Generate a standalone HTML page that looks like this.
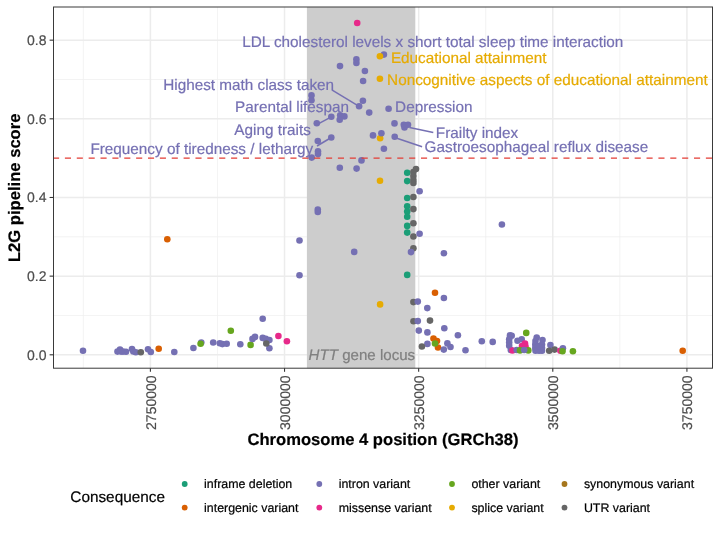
<!DOCTYPE html><html><head><meta charset="utf-8"><style>html,body{margin:0;padding:0;background:#fff;}svg{display:block;font-family:"Liberation Sans",sans-serif;text-rendering:geometricPrecision;will-change:transform;}</style></head><body>
<svg width="720" height="535" viewBox="0 0 720 535">
<rect x="0" y="0" width="720" height="535" fill="#fff"/>
<line x1="53.5" x2="712.5" y1="315.47" y2="315.47" stroke="#efefef" stroke-width="0.75"/>
<line x1="53.5" x2="712.5" y1="236.81" y2="236.81" stroke="#efefef" stroke-width="0.75"/>
<line x1="53.5" x2="712.5" y1="79.49" y2="79.49" stroke="#efefef" stroke-width="0.75"/>
<line y1="7.0" y2="368.2" x1="83.34" x2="83.34" stroke="#efefef" stroke-width="0.75"/>
<line y1="7.0" y2="368.2" x1="217.47" x2="217.47" stroke="#efefef" stroke-width="0.75"/>
<line y1="7.0" y2="368.2" x1="351.60" x2="351.60" stroke="#efefef" stroke-width="0.75"/>
<line y1="7.0" y2="368.2" x1="485.73" x2="485.73" stroke="#efefef" stroke-width="0.75"/>
<line y1="7.0" y2="368.2" x1="619.86" x2="619.86" stroke="#efefef" stroke-width="0.75"/>
<line x1="53.5" x2="712.5" y1="354.80" y2="354.80" stroke="#ececec" stroke-width="1.5"/>
<line x1="53.5" x2="712.5" y1="276.14" y2="276.14" stroke="#ececec" stroke-width="1.5"/>
<line x1="53.5" x2="712.5" y1="197.48" y2="197.48" stroke="#ececec" stroke-width="1.5"/>
<line x1="53.5" x2="712.5" y1="118.82" y2="118.82" stroke="#ececec" stroke-width="1.5"/>
<line x1="53.5" x2="712.5" y1="40.16" y2="40.16" stroke="#ececec" stroke-width="1.5"/>
<line y1="7.0" y2="368.2" x1="150.40" x2="150.40" stroke="#ececec" stroke-width="1.5"/>
<line y1="7.0" y2="368.2" x1="284.53" x2="284.53" stroke="#ececec" stroke-width="1.5"/>
<line y1="7.0" y2="368.2" x1="418.66" x2="418.66" stroke="#ececec" stroke-width="1.5"/>
<line y1="7.0" y2="368.2" x1="552.79" x2="552.79" stroke="#ececec" stroke-width="1.5"/>
<line y1="7.0" y2="368.2" x1="686.92" x2="686.92" stroke="#ececec" stroke-width="1.5"/>
<rect x="306.9" y="7.0" width="108.40" height="361.2" fill="#cdcdcd"/>
<text x="308.6" y="360" font-size="15.1" fill="#7f7f7f" stroke="#7f7f7f" stroke-width="0.2"><tspan font-style="italic">HTT</tspan> gene locus</text>
<circle cx="83" cy="350.8" r="3.3" fill="#7570B3"/>
<circle cx="117.5" cy="351.6" r="3.3" fill="#7570B3"/>
<circle cx="120" cy="349.5" r="3.3" fill="#7570B3"/>
<circle cx="123" cy="351.6" r="3.3" fill="#7570B3"/>
<circle cx="126" cy="351.8" r="3.3" fill="#7570B3"/>
<circle cx="121" cy="351.6" r="3.3" fill="#7570B3"/>
<circle cx="132" cy="349.0" r="3.3" fill="#7570B3"/>
<circle cx="133.3" cy="351.5" r="3.3" fill="#7570B3"/>
<circle cx="135.8" cy="352.3" r="3.3" fill="#7570B3"/>
<circle cx="140.8" cy="352.3" r="3.3" fill="#666666"/>
<circle cx="148" cy="349.3" r="3.3" fill="#7570B3"/>
<circle cx="150.8" cy="352.0" r="3.3" fill="#7570B3"/>
<circle cx="158.7" cy="348.7" r="3.3" fill="#D95F02"/>
<circle cx="174.3" cy="352.0" r="3.3" fill="#7570B3"/>
<circle cx="193.4" cy="348" r="3.3" fill="#7570B3"/>
<circle cx="201.3" cy="342.5" r="3.3" fill="#7570B3"/>
<circle cx="200.6" cy="343.8" r="3.3" fill="#66A61E"/>
<circle cx="213.2" cy="342.5" r="3.3" fill="#7570B3"/>
<circle cx="219.8" cy="343.2" r="3.3" fill="#7570B3"/>
<circle cx="222.4" cy="344.1" r="3.3" fill="#7570B3"/>
<circle cx="226.7" cy="343.8" r="3.3" fill="#7570B3"/>
<circle cx="230.8" cy="330.7" r="3.3" fill="#66A61E"/>
<circle cx="240.3" cy="344.3" r="3.3" fill="#7570B3"/>
<circle cx="250.6" cy="344.9" r="3.3" fill="#66A61E"/>
<circle cx="252.5" cy="338.9" r="3.3" fill="#7570B3"/>
<circle cx="255" cy="336.9" r="3.3" fill="#7570B3"/>
<circle cx="262.7" cy="318.7" r="3.3" fill="#7570B3"/>
<circle cx="262.7" cy="337.9" r="3.3" fill="#7570B3"/>
<circle cx="265.8" cy="338.9" r="3.3" fill="#7570B3"/>
<circle cx="269.4" cy="340" r="3.3" fill="#7570B3"/>
<circle cx="269.4" cy="348.2" r="3.3" fill="#7570B3"/>
<circle cx="266.3" cy="343.5" r="3.3" fill="#666666"/>
<circle cx="278.4" cy="336" r="3.3" fill="#E7298A"/>
<circle cx="286.9" cy="341.2" r="3.3" fill="#E7298A"/>
<circle cx="167.3" cy="239.3" r="3.3" fill="#D95F02"/>
<circle cx="299.5" cy="240.5" r="3.3" fill="#7570B3"/>
<circle cx="299.5" cy="275.3" r="3.3" fill="#7570B3"/>
<circle cx="357.2" cy="23.0" r="3.3" fill="#E7298A"/>
<circle cx="340.0" cy="66.1" r="3.3" fill="#7570B3"/>
<circle cx="356.4" cy="59.4" r="3.3" fill="#7570B3"/>
<circle cx="356.4" cy="63.0" r="3.3" fill="#7570B3"/>
<circle cx="364.9" cy="71.0" r="3.3" fill="#7570B3"/>
<circle cx="363.1" cy="81.0" r="3.3" fill="#7570B3"/>
<circle cx="383.9" cy="54.6" r="3.3" fill="#7570B3"/>
<circle cx="379.9" cy="56.3" r="3.3" fill="#E6AB02"/>
<circle cx="379.9" cy="78.7" r="3.3" fill="#E6AB02"/>
<circle cx="311.5" cy="95.4" r="3.3" fill="#7570B3"/>
<circle cx="311.5" cy="100.3" r="3.3" fill="#7570B3"/>
<circle cx="362.9" cy="100.7" r="3.3" fill="#7570B3"/>
<circle cx="359.1" cy="106.3" r="3.3" fill="#7570B3"/>
<circle cx="369.2" cy="112.6" r="3.3" fill="#7570B3"/>
<circle cx="388.6" cy="108.8" r="3.3" fill="#7570B3"/>
<circle cx="331.3" cy="116.8" r="3.3" fill="#7570B3"/>
<circle cx="340.2" cy="115.2" r="3.3" fill="#7570B3"/>
<circle cx="344.4" cy="116.4" r="3.3" fill="#7570B3"/>
<circle cx="339.7" cy="119.8" r="3.3" fill="#7570B3"/>
<circle cx="316.8" cy="123.2" r="3.3" fill="#7570B3"/>
<circle cx="394.5" cy="123.4" r="3.3" fill="#7570B3"/>
<circle cx="403.8" cy="124.7" r="3.3" fill="#7570B3"/>
<circle cx="408" cy="124.7" r="3.3" fill="#7570B3"/>
<circle cx="404.5" cy="127.5" r="3.3" fill="#7570B3"/>
<circle cx="373" cy="135.4" r="3.3" fill="#7570B3"/>
<circle cx="380.1" cy="138.3" r="3.3" fill="#E6AB02"/>
<circle cx="381.4" cy="133.2" r="3.3" fill="#7570B3"/>
<circle cx="394.7" cy="136.8" r="3.3" fill="#7570B3"/>
<circle cx="383.9" cy="148.7" r="3.3" fill="#7570B3"/>
<circle cx="331.3" cy="137.5" r="3.3" fill="#7570B3"/>
<circle cx="317.8" cy="141" r="3.3" fill="#7570B3"/>
<circle cx="318" cy="151.3" r="3.3" fill="#7570B3"/>
<circle cx="318" cy="154.1" r="3.3" fill="#7570B3"/>
<circle cx="311.7" cy="157.6" r="3.3" fill="#7570B3"/>
<circle cx="339.8" cy="167.7" r="3.3" fill="#7570B3"/>
<circle cx="356.6" cy="168.6" r="3.3" fill="#7570B3"/>
<circle cx="361.5" cy="160.4" r="3.3" fill="#7570B3"/>
<circle cx="380" cy="180.8" r="3.3" fill="#E6AB02"/>
<circle cx="317.8" cy="209.5" r="3.3" fill="#7570B3"/>
<circle cx="317.8" cy="212" r="3.3" fill="#7570B3"/>
<circle cx="354.2" cy="251.9" r="3.3" fill="#7570B3"/>
<circle cx="380.1" cy="304.4" r="3.3" fill="#E6AB02"/>
<circle cx="407.2" cy="172.8" r="3.3" fill="#1B9E77"/>
<circle cx="407.2" cy="181.1" r="3.3" fill="#1B9E77"/>
<circle cx="407.2" cy="198" r="3.3" fill="#1B9E77"/>
<circle cx="407.2" cy="206.2" r="3.3" fill="#1B9E77"/>
<circle cx="407.2" cy="211.5" r="3.3" fill="#1B9E77"/>
<circle cx="407.2" cy="216.7" r="3.3" fill="#1B9E77"/>
<circle cx="407.2" cy="225.9" r="3.3" fill="#1B9E77"/>
<circle cx="407.2" cy="232.6" r="3.3" fill="#1B9E77"/>
<circle cx="407.2" cy="274.9" r="3.3" fill="#1B9E77"/>
<circle cx="416" cy="169" r="3.3" fill="#666666"/>
<circle cx="413.4" cy="172" r="3.3" fill="#666666"/>
<circle cx="413.4" cy="176" r="3.3" fill="#666666"/>
<circle cx="413.4" cy="180" r="3.3" fill="#666666"/>
<circle cx="413.4" cy="183" r="3.3" fill="#666666"/>
<circle cx="413.4" cy="197" r="3.3" fill="#666666"/>
<circle cx="413.4" cy="209.1" r="3.3" fill="#666666"/>
<circle cx="413.4" cy="223.2" r="3.3" fill="#666666"/>
<circle cx="413.4" cy="236.5" r="3.3" fill="#666666"/>
<circle cx="413.4" cy="248.2" r="3.3" fill="#666666"/>
<circle cx="419.6" cy="191.3" r="3.3" fill="#7570B3"/>
<circle cx="419.6" cy="233.8" r="3.3" fill="#7570B3"/>
<circle cx="411" cy="252.1" r="3.3" fill="#7570B3"/>
<circle cx="443.9" cy="253.2" r="3.3" fill="#7570B3"/>
<circle cx="435" cy="292.7" r="3.3" fill="#D95F02"/>
<circle cx="443.9" cy="298" r="3.3" fill="#7570B3"/>
<circle cx="427.3" cy="308.1" r="3.3" fill="#7570B3"/>
<circle cx="413.4" cy="302.1" r="3.3" fill="#666666"/>
<circle cx="417.8" cy="301.6" r="3.3" fill="#7570B3"/>
<circle cx="413.5" cy="321.3" r="3.3" fill="#666666"/>
<circle cx="417.8" cy="321.1" r="3.3" fill="#7570B3"/>
<circle cx="430" cy="320.6" r="3.3" fill="#666666"/>
<circle cx="418.8" cy="330.6" r="3.3" fill="#7570B3"/>
<circle cx="427.4" cy="332.4" r="3.3" fill="#7570B3"/>
<circle cx="444.3" cy="328.3" r="3.3" fill="#7570B3"/>
<circle cx="457.9" cy="335.2" r="3.3" fill="#7570B3"/>
<circle cx="427.4" cy="343.9" r="3.3" fill="#7570B3"/>
<circle cx="421.9" cy="346.5" r="3.3" fill="#666666"/>
<circle cx="433.5" cy="338.5" r="3.3" fill="#D95F02"/>
<circle cx="437" cy="341" r="3.3" fill="#D95F02"/>
<circle cx="438" cy="347.5" r="3.3" fill="#D95F02"/>
<circle cx="435" cy="343.5" r="3.3" fill="#66A61E"/>
<circle cx="447.4" cy="343.4" r="3.3" fill="#7570B3"/>
<circle cx="450.5" cy="347" r="3.3" fill="#7570B3"/>
<circle cx="443.8" cy="349.6" r="3.3" fill="#7570B3"/>
<circle cx="465.5" cy="350.3" r="3.3" fill="#7570B3"/>
<circle cx="481.8" cy="341.3" r="3.3" fill="#7570B3"/>
<circle cx="492.7" cy="341.9" r="3.3" fill="#7570B3"/>
<circle cx="501.9" cy="224.5" r="3.3" fill="#7570B3"/>
<circle cx="510" cy="335.4" r="3.3" fill="#7570B3"/>
<circle cx="511.7" cy="335.8" r="3.3" fill="#7570B3"/>
<circle cx="509.2" cy="339.2" r="3.3" fill="#7570B3"/>
<circle cx="509.2" cy="342.5" r="3.3" fill="#7570B3"/>
<circle cx="509.2" cy="345.8" r="3.3" fill="#7570B3"/>
<circle cx="510.8" cy="350" r="3.3" fill="#7570B3"/>
<circle cx="512.5" cy="350.5" r="3.3" fill="#E7298A"/>
<circle cx="517.5" cy="340.8" r="3.3" fill="#7570B3"/>
<circle cx="521.7" cy="339.2" r="3.3" fill="#7570B3"/>
<circle cx="525" cy="343.5" r="3.3" fill="#E7298A"/>
<circle cx="525.5" cy="346.5" r="3.3" fill="#E7298A"/>
<circle cx="522" cy="346" r="3.3" fill="#E7298A"/>
<circle cx="516.7" cy="350" r="3.3" fill="#7570B3"/>
<circle cx="520" cy="350.4" r="3.3" fill="#66A61E"/>
<circle cx="528.3" cy="350.4" r="3.3" fill="#66A61E"/>
<circle cx="524.2" cy="350" r="3.3" fill="#7570B3"/>
<circle cx="526.25" cy="332.9" r="3.3" fill="#66A61E"/>
<circle cx="536.7" cy="337.5" r="3.3" fill="#7570B3"/>
<circle cx="542.5" cy="340" r="3.3" fill="#7570B3"/>
<circle cx="535.5" cy="341" r="3.3" fill="#7570B3"/>
<circle cx="535.3" cy="344.5" r="3.3" fill="#7570B3"/>
<circle cx="542" cy="344.5" r="3.3" fill="#7570B3"/>
<circle cx="535.3" cy="348" r="3.3" fill="#7570B3"/>
<circle cx="542" cy="348" r="3.3" fill="#7570B3"/>
<circle cx="535.5" cy="350.8" r="3.3" fill="#7570B3"/>
<circle cx="539" cy="350.8" r="3.3" fill="#7570B3"/>
<circle cx="542" cy="350.8" r="3.3" fill="#7570B3"/>
<circle cx="539" cy="346" r="3.3" fill="#7570B3"/>
<circle cx="550.4" cy="345" r="3.3" fill="#7570B3"/>
<circle cx="549.2" cy="350.8" r="3.3" fill="#666666"/>
<circle cx="554.6" cy="349.6" r="3.3" fill="#666666"/>
<circle cx="560.4" cy="350.8" r="3.3" fill="#E7298A"/>
<circle cx="562.9" cy="348.3" r="3.3" fill="#7570B3"/>
<circle cx="562.5" cy="351.25" r="3.3" fill="#66A61E"/>
<circle cx="572.9" cy="351.25" r="3.3" fill="#66A61E"/>
<circle cx="682.7" cy="350.8" r="3.3" fill="#D95F02"/>
<line x1="331.8" y1="89.8" x2="359.1" y2="106.3" stroke="#7570B3" stroke-width="1.5"/>
<line x1="316.8" y1="124.6" x2="331.3" y2="116.8" stroke="#7570B3" stroke-width="1.5"/>
<line x1="317" y1="146" x2="331.3" y2="137.5" stroke="#7570B3" stroke-width="1.5"/>
<line x1="409.5" y1="127.5" x2="433.3" y2="132.4" stroke="#7570B3" stroke-width="1.5"/>
<line x1="396.1" y1="138" x2="422.1" y2="146.7" stroke="#7570B3" stroke-width="1.5"/>
<line x1="53.03" x2="712.5" y1="158.15" y2="158.15" stroke="#e33c34" stroke-width="1.4" stroke-dasharray="6.1 5.77"/>
<text x="242.2" y="46.5" font-size="15.3" fill="#7570B3" stroke="#7570B3" stroke-width="0.2">LDL cholesterol levels x short total sleep time interaction</text>
<text x="390.9" y="62.9" font-size="15.3" fill="#E6AB02" stroke="#E6AB02" stroke-width="0.2">Educational attainment</text>
<text x="387.1" y="85.2" font-size="15.3" fill="#E6AB02" stroke="#E6AB02" stroke-width="0.2">Noncognitive aspects of educational attainment</text>
<text x="163.2" y="89.9" font-size="15.3" fill="#7570B3" stroke="#7570B3" stroke-width="0.2">Highest math class taken</text>
<text x="395.1" y="112.2" font-size="15.3" fill="#7570B3" stroke="#7570B3" stroke-width="0.2">Depression</text>
<text x="235.1" y="112.2" font-size="15.3" fill="#7570B3" stroke="#7570B3" stroke-width="0.2">Parental lifespan</text>
<text x="234.3" y="134.6" font-size="15.3" fill="#7570B3" stroke="#7570B3" stroke-width="0.2">Aging traits</text>
<text x="435.8" y="138" font-size="15.3" fill="#7570B3" stroke="#7570B3" stroke-width="0.2">Frailty index</text>
<text x="424.6" y="152.4" font-size="15.3" fill="#7570B3" stroke="#7570B3" stroke-width="0.2">Gastroesophageal reflux disease</text>
<text x="90.4" y="154.2" font-size="15.3" fill="#7570B3" stroke="#7570B3" stroke-width="0.2">Frequency of tiredness / lethargy</text>
<rect x="53.5" y="7.0" width="659.0" height="361.2" fill="none" stroke="#3a3a3a" stroke-width="1.0"/>
<line x1="49.6" x2="53.5" y1="354.80" y2="354.80" stroke="#333333" stroke-width="1.1"/>
<text x="46.5" y="359.80" font-size="14" fill="#4d4d4d" stroke="#4d4d4d" stroke-width="0.2" text-anchor="end">0.0</text>
<line x1="49.6" x2="53.5" y1="276.14" y2="276.14" stroke="#333333" stroke-width="1.1"/>
<text x="46.5" y="281.14" font-size="14" fill="#4d4d4d" stroke="#4d4d4d" stroke-width="0.2" text-anchor="end">0.2</text>
<line x1="49.6" x2="53.5" y1="197.48" y2="197.48" stroke="#333333" stroke-width="1.1"/>
<text x="46.5" y="202.48" font-size="14" fill="#4d4d4d" stroke="#4d4d4d" stroke-width="0.2" text-anchor="end">0.4</text>
<line x1="49.6" x2="53.5" y1="118.82" y2="118.82" stroke="#333333" stroke-width="1.1"/>
<text x="46.5" y="123.82" font-size="14" fill="#4d4d4d" stroke="#4d4d4d" stroke-width="0.2" text-anchor="end">0.6</text>
<line x1="49.6" x2="53.5" y1="40.16" y2="40.16" stroke="#333333" stroke-width="1.1"/>
<text x="46.5" y="45.16" font-size="14" fill="#4d4d4d" stroke="#4d4d4d" stroke-width="0.2" text-anchor="end">0.8</text>
<line y1="368.2" y2="371.8" x1="150.40" x2="150.40" stroke="#333333" stroke-width="1.1"/>
<text transform="translate(155.50,375.4) rotate(-90)" font-size="14" fill="#4d4d4d" stroke="#4d4d4d" stroke-width="0.2" text-anchor="end">2750000</text>
<line y1="368.2" y2="371.8" x1="284.53" x2="284.53" stroke="#333333" stroke-width="1.1"/>
<text transform="translate(289.63,375.4) rotate(-90)" font-size="14" fill="#4d4d4d" stroke="#4d4d4d" stroke-width="0.2" text-anchor="end">3000000</text>
<line y1="368.2" y2="371.8" x1="418.66" x2="418.66" stroke="#333333" stroke-width="1.1"/>
<text transform="translate(423.76,375.4) rotate(-90)" font-size="14" fill="#4d4d4d" stroke="#4d4d4d" stroke-width="0.2" text-anchor="end">3250000</text>
<line y1="368.2" y2="371.8" x1="552.79" x2="552.79" stroke="#333333" stroke-width="1.1"/>
<text transform="translate(557.89,375.4) rotate(-90)" font-size="14" fill="#4d4d4d" stroke="#4d4d4d" stroke-width="0.2" text-anchor="end">3500000</text>
<line y1="368.2" y2="371.8" x1="686.92" x2="686.92" stroke="#333333" stroke-width="1.1"/>
<text transform="translate(692.02,375.4) rotate(-90)" font-size="14" fill="#4d4d4d" stroke="#4d4d4d" stroke-width="0.2" text-anchor="end">3750000</text>
<text x="383" y="445" font-size="16.6" font-weight="bold" fill="#000" stroke="#000" stroke-width="0.2" text-anchor="middle">Chromosome 4 position (GRCh38)</text>
<text transform="translate(19.7,187.8) rotate(-90)" font-size="16.6" font-weight="bold" fill="#000" stroke="#000" stroke-width="0.2" text-anchor="middle">L2G pipeline score</text>
<text x="70.3" y="501.6" font-size="15.35" fill="#000" stroke="#000" stroke-width="0.2">Consequence</text>
<circle cx="184.7" cy="484.0" r="2.9" fill="#1B9E77"/>
<text x="204.10" y="487.90" font-size="12.4" fill="#000" stroke="#000" stroke-width="0.2">inframe deletion</text>
<circle cx="184.7" cy="507.6" r="2.9" fill="#D95F02"/>
<text x="204.10" y="511.50" font-size="12.4" fill="#000" stroke="#000" stroke-width="0.2">intergenic variant</text>
<circle cx="319.3" cy="484.0" r="2.9" fill="#7570B3"/>
<text x="338.70" y="487.90" font-size="12.4" fill="#000" stroke="#000" stroke-width="0.2">intron variant</text>
<circle cx="319.3" cy="507.6" r="2.9" fill="#E7298A"/>
<text x="338.70" y="511.50" font-size="12.4" fill="#000" stroke="#000" stroke-width="0.2">missense variant</text>
<circle cx="452.0" cy="484.0" r="2.9" fill="#66A61E"/>
<text x="471.40" y="487.90" font-size="12.4" fill="#000" stroke="#000" stroke-width="0.2">other variant</text>
<circle cx="452.0" cy="507.6" r="2.9" fill="#E6AB02"/>
<text x="471.40" y="511.50" font-size="12.4" fill="#000" stroke="#000" stroke-width="0.2">splice variant</text>
<circle cx="564.5" cy="484.0" r="2.9" fill="#A6761D"/>
<text x="583.90" y="487.90" font-size="12.4" fill="#000" stroke="#000" stroke-width="0.2">synonymous variant</text>
<circle cx="564.5" cy="507.6" r="2.9" fill="#666666"/>
<text x="583.90" y="511.50" font-size="12.4" fill="#000" stroke="#000" stroke-width="0.2">UTR variant</text>
</svg></body></html>
